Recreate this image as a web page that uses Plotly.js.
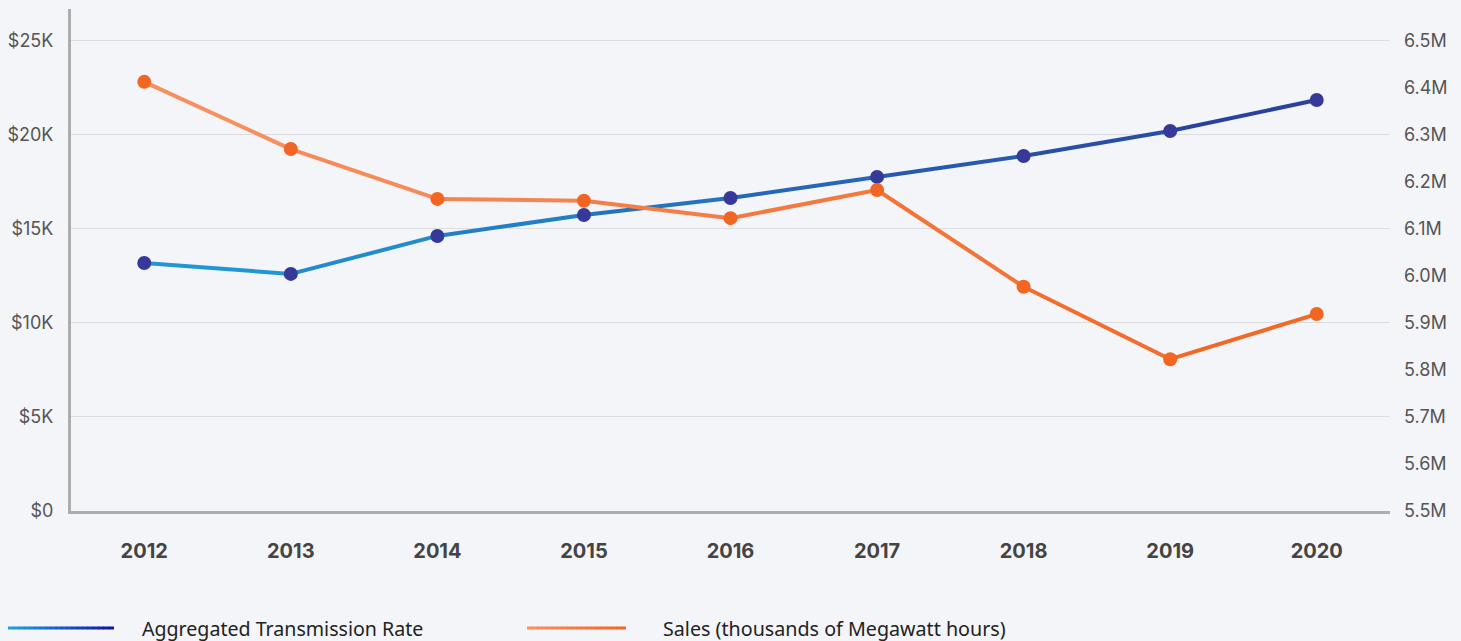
<!DOCTYPE html>
<html>
<head>
<meta charset="utf-8">
<script src="https://cdn.plot.ly/plotly-3.0.1.min.js"></script>
<style>
  html, body { margin: 0; padding: 0; background: #F4F5F9; }
  #chart { width: 1461px; height: 641px; }
</style>
</head>
<body>
<div id="chart"></div>
<script>
// ---- Data ----
const years = ['2012', '2013', '2014', '2015', '2016', '2017', '2018', '2019', '2020'];
const transmissionRate = [13190, 12610, 14630, 15740, 16650, 17770, 18880, 20210, 21860];
const sales = [6413000, 6270000, 6164000, 6160000, 6123000, 6183000, 5977000, 5823000, 5919000];
const seriesNames = ['Aggregated Transmission Rate', 'Sales (thousands of Megawatt hours)'];
const leftTickVals = [0, 5000, 10000, 15000, 20000, 25000];
const leftTickText = ['$0', '$5K', '$10K', '$15K', '$20K', '$25K'];
const rightTickVals = [5500000, 5600000, 5700000, 5800000, 5900000, 6000000, 6100000, 6200000, 6300000, 6400000, 6500000];
const rightTickText = ['5.5M', '5.6M', '5.7M', '5.8M', '5.9M', '6.0M', '6.1M', '6.2M', '6.3M', '6.4M', '6.5M'];

// ---- Styling ----
const W = 1461, H = 641;
const M = { l: 71, r: 71, t: 9, b: 130 };
const PW = W - M.l - M.r, PH = H - M.t - M.b;
const blueStart = [31, 157, 216], blueEnd = [42, 60, 155];
const orangeStart = [248, 146, 98], orangeEnd = [242, 101, 34];
const blueLegendStart = [31, 165, 222], blueLegendEnd = [18, 18, 170];
const blueMarker = '#36399A', orangeMarker = '#F26522';

function mix(a, b, t) {
  return 'rgb(' + a.map((v, i) => Math.round(v + (b[i] - v) * t)).join(',') + ')';
}

const traces = [];
function addGradientLine(vals, c0, c1, yaxis) {
  const n = vals.length;
  for (let i = 0; i < n - 1; i++) {
    const t = (i + 0.5) / (n - 1);
    traces.push({
      x: [years[i], years[i + 1]], y: [vals[i], vals[i + 1]],
      yaxis: yaxis, type: 'scatter', mode: 'lines',
      line: { color: mix(c0, c1, t), width: 4 },
      hoverinfo: 'skip', showlegend: false
    });
  }
}
addGradientLine(transmissionRate, blueStart, blueEnd, 'y');
addGradientLine(sales, orangeStart, orangeEnd, 'y2');
traces.push({
  x: years, y: transmissionRate, type: 'scatter', mode: 'markers', yaxis: 'y',
  name: seriesNames[0], marker: { color: blueMarker, size: 14 }, showlegend: false
});
traces.push({
  x: years, y: sales, type: 'scatter', mode: 'markers', yaxis: 'y2',
  name: seriesNames[1], marker: { color: orangeMarker, size: 14 }, showlegend: false
});

// ---- Manual legend ----
const px2x = px => (px - M.l) / PW;
const px2y = py => (H - M.b - py) / PH;
const shapes = [];
function legendLine(x0, x1, py, c0, c1) {
  const steps = 20;
  for (let i = 0; i < steps; i++) {
    const a = x0 + (x1 - x0) * i / steps;
    const b = x0 + (x1 - x0) * (i + 1) / steps + (i < steps - 1 ? 0.6 : 0);
    shapes.push({
      type: 'line', xref: 'paper', yref: 'paper',
      x0: px2x(a), x1: px2x(b), y0: px2y(py), y1: px2y(py),
      line: { color: mix(c0, c1, (i + 0.5) / steps), width: 3 }
    });
  }
}
legendLine(8, 114, 628, blueLegendStart, blueLegendEnd);
legendLine(527, 626, 628, orangeStart, orangeEnd);
const annotations = [
  { text: seriesNames[0], xref: 'paper', yref: 'paper', x: px2x(140), y: px2y(628),
    xanchor: 'left', yanchor: 'middle', showarrow: false,
    font: { family: 'Noto Sans, sans-serif', size: 19.6, color: '#222' } },
  { text: seriesNames[1], xref: 'paper', yref: 'paper', x: px2x(661), y: px2y(628),
    xanchor: 'left', yanchor: 'middle', showarrow: false,
    font: { family: 'Noto Sans, sans-serif', size: 19.7, color: '#222' } }
];

const layout = {
  width: W, height: H,
  margin: M,
  paper_bgcolor: '#F4F5F9', plot_bgcolor: '#F4F5F9',
  showlegend: false,
  hovermode: 'closest',
  xaxis: {
    type: 'category', range: [-0.5, 8.5],
    showgrid: false, zeroline: false,
    showline: true, linecolor: '#ADADAD', linewidth: 3,
    ticks: '', ticklabelstandoff: 20,
    tickfont: { family: 'Inter, sans-serif', size: 20, color: '#444', weight: 'bold' },
    fixedrange: true
  },
  yaxis: {
    range: [0, 26700],
    tickvals: leftTickVals, ticktext: leftTickText,
    showgrid: true, gridcolor: '#DCDDE1', gridwidth: 1,
    zeroline: false,
    showline: true, linecolor: '#ADADAD', linewidth: 3,
    ticks: '', ticklabelstandoff: 11,
    tickfont: { family: 'Inter, sans-serif', size: 18, color: '#555' },
    fixedrange: true
  },
  yaxis2: {
    overlaying: 'y', side: 'right',
    range: [5500000, 6568000],
    tickvals: rightTickVals, ticktext: rightTickText,
    showgrid: false, zeroline: false, showline: false,
    ticks: '', ticklabelstandoff: 13,
    tickfont: { family: 'Inter, sans-serif', size: 18, color: '#555' },
    fixedrange: true
  },
  shapes: shapes,
  annotations: annotations
};

Plotly.newPlot('chart', traces, layout, { displayModeBar: false, staticPlot: true });
</script>
</body>
</html>
